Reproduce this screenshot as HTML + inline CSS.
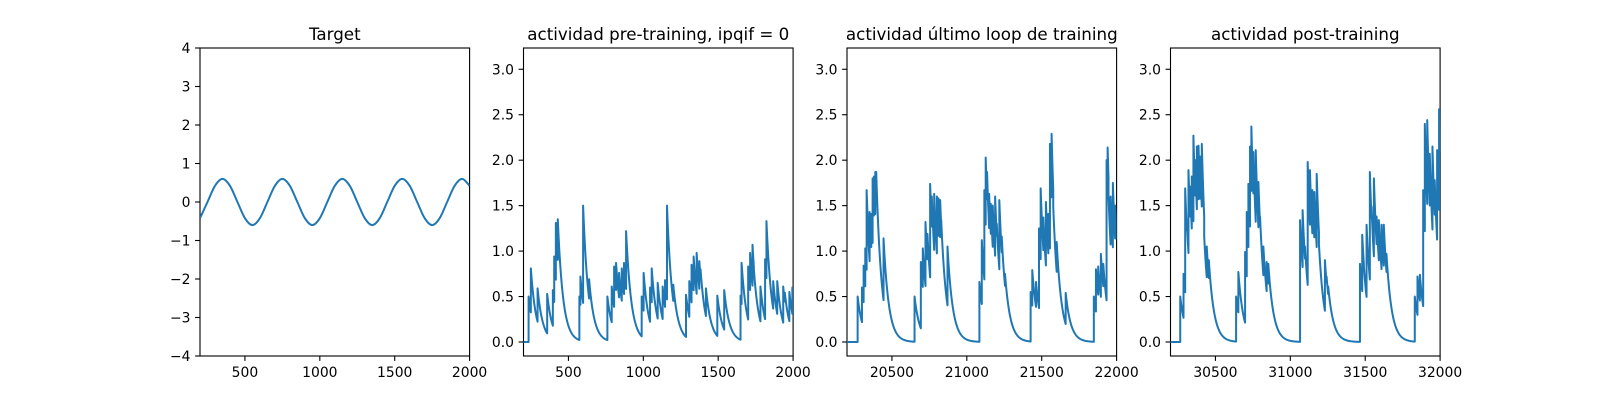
<!DOCTYPE html>
<html><head><meta charset="utf-8"><style>
html,body{margin:0;padding:0;background:#fff;}
svg{display:block;font-family:"DejaVu Sans","Liberation Sans",sans-serif;}
</style></head><body>
<svg id="fig" width="1600" height="400" viewBox="0 0 1600 400"></svg>
<script>
// ---------- data ----------
const targetX = [200,250,300,350,400,450,500,550,600,650,700,750,800,850,900,950,1000,1050,1100,1150,1200,1250,1300,1350,1400,1450,1500,1550,1600,1650,1700,1750,1800,1850,1900,1950,2000];
const targetY = [-0.42,0,0.42,0.6,0.42,0,-0.42,-0.6,-0.42,0,0.42,0.6,0.42,0,-0.42,-0.6,-0.42,0,0.42,0.6,0.42,0,-0.42,-0.6,-0.42,0,0.42,0.6,0.42,0,-0.42,-0.6,-0.42,0,0.42,0.6,0.42];

const preTimes = [234,249,294,358,396,405,416,429,573,580,598,638,760,789,805,818,838,856,871,885,989,1002,1045,1056,1096,1129,1145,1158,1200,1285,1307,1322,1336,1356,1374,1382,1418,1494,1540,1649,1656,1700,1713,1729,1738,1782,1813,1822,1867,1894,1934,1945,1975,1995];
const preVals  = [0.5,0.81,0.59,0.53,0.57,0.94,1.31,1.35,0.5,0.72,1.5,0.69,0.5,0.61,0.83,0.87,0.76,0.81,0.87,1.22,0.5,0.76,0.6,0.81,0.65,0.61,0.68,1.5,0.63,0.52,0.67,0.85,0.94,0.98,0.89,0.8,0.59,0.51,0.57,0.51,0.87,0.83,0.98,1.07,0.8,0.61,0.91,1.33,0.67,0.67,0.61,0.54,0.55,0.6];

const lastTimes = [20271,20300,20311,20322,20331,20342,20351,20362,20371,20380,20389,20395,20444,20651,20693,20706,20724,20737,20755,20766,20782,20800,20811,20822,20829,20871,21084,21100,21117,21126,21135,21149,21160,21173,21189,21200,21217,21233,21255,21426,21437,21462,21482,21493,21511,21528,21544,21555,21566,21577,21600,21660,21848,21862,21877,21895,21911,21933,21940,21946,21960,21975,21990];
const lastVals  = [0.5,0.6,0.84,1.03,1.67,1.15,1.43,1.41,1.8,1.82,1.87,1.87,1.14,0.5,0.88,1.03,1.32,1.19,1.74,1.6,1.63,1.6,1.58,1.56,1.34,1.05,0.66,1.12,1.67,2.03,1.87,1.63,1.52,1.5,1.6,1.3,1.56,1.16,0.75,0.55,0.79,0.66,1.25,1.69,1.37,1.54,1.41,2.18,2.29,1.49,1.1,0.54,0.5,0.8,0.83,0.97,0.86,2.0,2.14,1.6,1.6,1.75,1.5];

const postTimes = [30265,30287,30298,30309,30320,30331,30342,30353,30365,30376,30387,30398,30409,30425,30442,30456,30638,30653,30698,30709,30720,30731,30740,30753,30769,30787,30798,30820,30842,30853,31065,31082,31098,31116,31131,31147,31160,31176,31191,31231,31242,31253,31465,31480,31491,31509,31531,31542,31558,31576,31591,31609,31624,31642,31831,31849,31865,31887,31898,31914,31931,31949,31964,31980,31993];
const postVals  = [0.5,0.75,1.69,1.34,1.89,1.71,1.82,2.27,2.0,2.15,2.16,2.04,2.18,1.16,1.05,0.9,0.5,0.77,0.99,1.43,1.74,2.15,2.37,2.09,2.11,1.76,1.38,1.05,0.88,0.86,1.34,1.45,1.05,1.98,1.89,1.67,1.65,1.85,1.08,0.9,0.72,0.61,0.86,1.18,0.83,1.29,1.87,1.49,1.8,1.38,1.34,1.29,1.29,0.97,0.5,0.72,0.74,1.67,2.4,2.44,2.07,2.15,1.78,2.11,2.56];

const xTicks1 = [500,1000,1500,2000];
const xTicks3 = [20500,21000,21500,22000];
const xTicks4 = [30500,31000,31500,32000];
const yTicks1 = [-4,-3,-2,-1,0,1,2,3,4];
const yTicksAct = [0,0.5,1.0,1.5,2.0,2.5,3.0];
const titles = ["Target","actividad pre-training, ipqif = 0","actividad último loop de training","actividad post-training"];

// ---------- drawing ----------
const NS = "http://www.w3.org/2000/svg";
const svg = document.getElementById("fig");
const TOP = 48, BOT = 356, W = 269.6, GAP = 53.9, LEFT0 = 200;
const COLOR = "#1f77b4";
const TAU = 35;

function mk(tag, attrs, parent) {
  const e = document.createElementNS(NS, tag);
  for (const k in attrs) e.setAttribute(k, attrs[k]);
  (parent || svg).appendChild(e);
  return e;
}
function fmtY(v, dec) {
  const s = dec ? v.toFixed(1) : String(v);
  return s.replace("-", "\u2212");
}

function drawAxes(i, xmin, xmax, ymin, ymax, xt, yt, dec) {
  const x0 = LEFT0 + i * (W + GAP), x1 = x0 + W;
  const sx = v => x0 + (v - xmin) / (xmax - xmin) * W;
  const sy = v => BOT - (v - ymin) / (ymax - ymin) * (BOT - TOP);
  const g = mk("g", {});
  
  
  const t = mk("text", {x: (x0 + x1) / 2, y: 40, "text-anchor": "middle", "font-size": "16.7px", fill: "#000"}, g);
  t.textContent = titles[i];
  
  
  xt.forEach(v => {
    const px = sx(v);
    const l = mk("line", {x1: px, x2: px, y1: BOT, y2: BOT + 4.9, stroke: "#000", "stroke-width": 1.1}, g);
    
    
    const tx = mk("text", {x: px, y: BOT + 21, "text-anchor": "middle", "font-size": "13.9px", fill: "#000"}, g);
    tx.textContent = String(v);
    
    
  });
  yt.forEach(v => {
    const py = sy(v);
    const l = mk("line", {x1: x0 - 4.9, x2: x0, y1: py, y2: py, stroke: "#000", "stroke-width": 1.1}, g);
    
    
    const ty = mk("text", {x: x0 - 9.5, y: py + 5, "text-anchor": "end", "font-size": "13.9px", fill: "#000"}, g);
    ty.textContent = fmtY(v, dec);
    
    
  });
  const clipId = "clip" + i;
  const cp = mk("clipPath", {id: clipId}, g);
  mk("rect", {x: x0, y: TOP, width: W, height: BOT - TOP}, cp);
  const frame = mk("rect", {x: x0, y: TOP, width: W, height: BOT - TOP, fill: "none", stroke: "#000", "stroke-width": 1.1}, g);
  
  
  return {g, sx, sy, clipId};
}

function smoothPath(xs, ys, sx, sy) {
  const P = xs.map((x, k) => [sx(x), sy(ys[k])]);
  let d = "M" + P[0][0] + "," + P[0][1];
  for (let k = 0; k < P.length - 1; k++) {
    const p0 = P[Math.max(0, k - 1)], p1 = P[k], p2 = P[k + 1], p3 = P[Math.min(P.length - 1, k + 2)];
    const c1 = [p1[0] + (p2[0] - p0[0]) / 6, p1[1] + (p2[1] - p0[1]) / 6];
    const c2 = [p2[0] - (p3[0] - p1[0]) / 6, p2[1] - (p3[1] - p1[1]) / 6];
    d += "C" + c1[0] + "," + c1[1] + " " + c2[0] + "," + c2[1] + " " + p2[0] + "," + p2[1];
  }
  return d;
}

function activityPath(times, vals, xmin, xmax, sx, sy) {
  let d = "M" + sx(xmin) + "," + sy(0) + "L" + sx(times[0]) + "," + sy(0);
  for (let k = 0; k < times.length; k++) {
    const t0 = times[k], v0 = vals[k];
    const tEnd = k + 1 < times.length ? times[k + 1] : xmax;
    d += "L" + sx(t0) + "," + sy(v0);
    for (let t = t0 + 2; t < tEnd; t += 2) d += "L" + sx(t) + "," + sy(v0 * Math.exp(-(t - t0) / TAU));
    d += "L" + sx(tEnd) + "," + sy(v0 * Math.exp(-(tEnd - t0) / TAU));
  }
  return d;
}

// Panel 1
let a = drawAxes(0, 200, 2000, -4, 4, xTicks1, yTicks1, false);
let p = mk("path", {d: smoothPath(targetX, targetY, a.sx, a.sy), fill: "none", stroke: COLOR, "stroke-width": 2, "clip-path": "url(#" + a.clipId + ")"}, a.g);



const YMIN = -0.154, YMAX = 3.234;
const panels = [
  [1, 200, 2000, xTicks1, preTimes, preVals, 'pre-training-line'],
  [2, 20200, 22000, xTicks3, lastTimes, lastVals, 'last-loop-line'],
  [3, 30200, 32000, xTicks4, postTimes, postVals, 'post-training-line']
];
panels.forEach(([i, xmin, xmax, xt, ts, vs, name]) => {
  const ax = drawAxes(i, xmin, xmax, YMIN, YMAX, xt, yTicksAct, true);
  const path = mk("path", {d: activityPath(ts, vs, xmin, xmax, ax.sx, ax.sy), fill: "none", stroke: COLOR, "stroke-width": 2, "stroke-linejoin": "round", "clip-path": "url(#" + ax.clipId + ")"}, ax.g);
  
  
});
</script>
</body></html>
